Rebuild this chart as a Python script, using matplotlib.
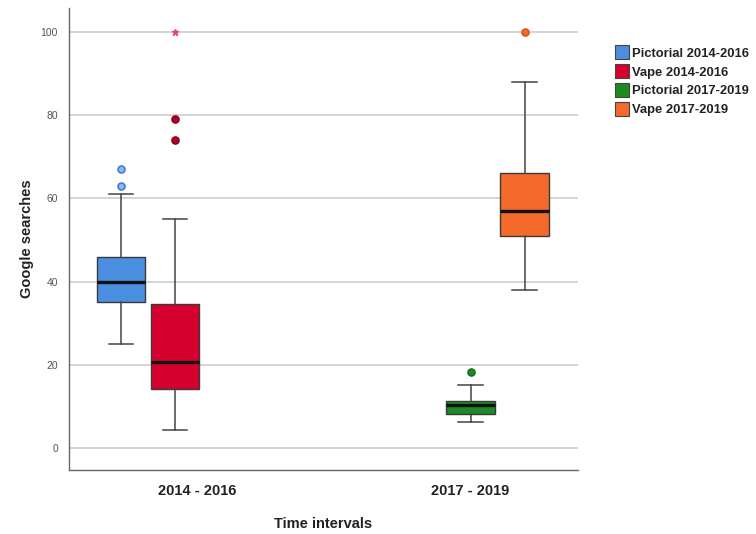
import matplotlib
matplotlib.use("Agg")
import matplotlib.pyplot as plt
from matplotlib.patches import Patch

plt.rcParams["font.family"] = ["Liberation Sans", "DejaVu Sans"]

# ---- data ----
series = ["Pictorial 2014-2016", "Vape 2014-2016", "Pictorial 2017-2019", "Vape 2017-2019"]
colors = ["#4a8fe0", "#d6002e", "#1e8a23", "#f5692a"]
whislo = [25, 4.3, 6.2, 38]
q1 = [35.2, 14.2, 8.1, 51]
med = [40, 20.7, 10.3, 57]
q3 = [46, 34.5, 11.4, 66]
whishi = [61, 55, 15.1, 88]
outliers = [[63, 67], [74, 79], [18.3], [100]]
extremes = [[], [100], [], []]
categories = ["2014 - 2016", "2017 - 2019"]
yticks = [0, 20, 40, 60, 80, 100]

# ---- layout ----
positions = [0.96, 1.96, 7.44, 8.44]
cat_pos = [2.37, 7.44]

fig = plt.figure(figsize=(7.56, 5.34), dpi=100)
ax = fig.add_axes([0.0913, 0.1199, 0.6733, 0.8651])

for y in yticks:
    ax.axhline(y, color="#d4d4d4", lw=1.4, zorder=0)

stats = []
for i in range(4):
    stats.append(dict(med=med[i], q1=q1[i], q3=q3[i], whislo=whislo[i],
                      whishi=whishi[i], fliers=[], label=series[i]))

bp = ax.bxp(stats, positions=positions, widths=0.9, patch_artist=True,
            showfliers=False, capwidths=0.45,
            boxprops=dict(edgecolor="#3a3a3a", linewidth=1.0),
            medianprops=dict(color="#111111", linewidth=2.4),
            whiskerprops=dict(color="#444444", linewidth=1.1),
            capprops=dict(color="#444444", linewidth=1.1))
for patch, c in zip(bp["boxes"], colors):
    patch.set_facecolor(c)
    patch.set_zorder(2)

outlier_face = ["#8fb8ee", "#b0002a", "#1e8a23", "#f5692a"]
outlier_edge = ["#3d7fd0", "#8a001c", "#186e1c", "#d9531a"]
for i in range(4):
    if outliers[i]:
        ax.plot([positions[i]] * len(outliers[i]), outliers[i], "o", ms=5,
                mfc=outlier_face[i], mec=outlier_edge[i], mew=1.2, zorder=3)
    if extremes[i]:
        ax.plot([positions[i]] * len(extremes[i]), extremes[i], "*", ms=5,
                color="#f04070", zorder=3)

ax.set_xlim(0, 9.43)
ax.set_ylim(-5.29, 105.77)
ax.set_yticks(yticks)
ax.set_xticks(cat_pos)
ax.set_xticklabels(categories, fontsize=10.5, fontweight="bold", color="#222222")
ax.tick_params(axis="y", length=0, labelsize=7.5, labelcolor="#555555", pad=8)
ax.tick_params(axis="x", length=0, pad=10)
for s in ["top", "right"]:
    ax.spines[s].set_visible(False)
for s in ["left", "bottom"]:
    ax.spines[s].set_color("#666666")
    ax.spines[s].set_linewidth(1.0)

ax.set_ylabel("Google searches", fontsize=10.5, fontweight="bold", color="#222222", labelpad=5)
ax.set_xlabel("Time intervals", fontsize=10.5, fontweight="bold", color="#222222", labelpad=14)

handles = [Patch(facecolor=c, edgecolor="#444444", linewidth=0.8) for c in colors]
fig.legend(handles, series, loc="upper left", bbox_to_anchor=(0.802, 0.932),
           frameon=False, handlelength=1.0, handleheight=1.25, handletextpad=0.3,
           labelspacing=0.35, borderpad=0.2, prop=dict(size=9.4, weight="bold"),
           labelcolor="#222222")

fig.savefig("out.png", dpi=100)
